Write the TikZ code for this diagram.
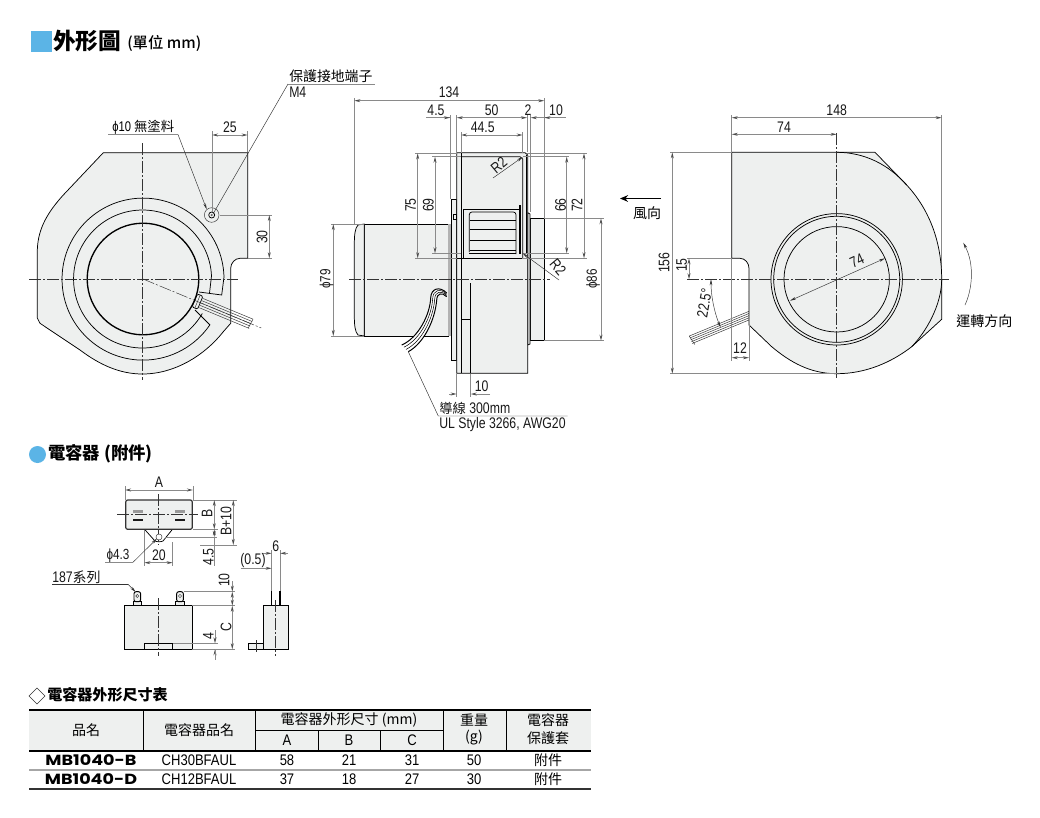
\documentclass[tikz,border=0pt]{standalone}
\usepackage{fontspec}
\usetikzlibrary{arrows.meta}
\setmainfont[FakeStretch=0.8]{Liberation Sans}
\newfontfamily\TB[FakeStretch=0.85]{Liberation Sans}
\newfontfamily\C{Noto Sans CJK TC}
\newfontfamily\CM{Noto Sans CJK TC Medium}
\newfontfamily\HV[FakeStretch=1.2]{Poppins}
\definecolor{pfill}{HTML}{EEF0EF}
\definecolor{dimc}{HTML}{8A8A8A}
\definecolor{blu}{HTML}{5BB4E6}
\tikzset{
  ol/.style={draw=black,line width=.55pt},
  thn/.style={draw=black!80,line width=.35pt},
  ext/.style={draw=dimc,line width=.7pt},
  dl/.style={draw=dimc,line width=.7pt,{Stealth[length=4.5pt,width=2.2pt,color=black!70]}-{Stealth[length=4.5pt,width=2.2pt,color=black!70]}},
  sa/.style={draw=dimc,line width=.7pt,-{Stealth[length=4.5pt,width=2.2pt,color=black!70]}},
  la/.style={draw=black!80,line width=.35pt,-{Stealth[length=4.5pt,width=2pt,color=black!80]}},
  cl/.style={draw=black!80,line width=.35pt,dash pattern=on 9pt off 1.5pt on 1.5pt off 1.5pt},
  tx/.style={inner sep=0pt,font=\fontsize{11.5}{12}\selectfont,text=black!90},
  rt/.style={tx,rotate=90},
  cj/.style={inner sep=0pt,font=\C\fontsize{10.4}{12}\selectfont,text=black},
  tb/.style={inner sep=0pt,font=\TB\fontsize{11.5}{12}\selectfont,text=black},
  tc/.style={inner sep=0pt,font=\C\fontsize{10.5}{12}\selectfont,text=black},
  tm/.style={inner sep=0pt,font=\HV\bfseries\fontsize{11}{12}\selectfont,text=black},
}
\begin{document}
\begin{tikzpicture}[x=.75pt,y=-.75pt]
\useasboundingbox (0,0) rectangle (1040,818);
\fill[white] (0,0) rectangle (1040,818);
%% titles
\fill[blu] (31,31) rectangle (52,52);
\node[anchor=west,inner sep=0pt,font=\C\bfseries\fontsize{17}{20}\selectfont] (t1) at (53,41) {外形圖};
\node[anchor=west,inner sep=0pt,font=\CM\fontsize{11.5}{13}\selectfont] (t2) at (127,43) {(單位 mm)};
\fill[blu] (37.5,454.5) circle (8.5);
\node[anchor=west,inner sep=0pt,font=\C\bfseries\fontsize{13}{15}\selectfont] (t3) at (48,454) {電容器 (附件)};
\draw[black!80,line width=.5pt] (37,688) -- (45,696) -- (37,704) -- (29,696) -- cycle;
\node[anchor=west,inner sep=0pt,font=\C\bfseries\fontsize{11.3}{15}\selectfont] (t4) at (47,695) {電容器外形尺寸表};
%% LEFT VIEW
\path[fill=pfill,ol] (103.3,152.7) -- (247.7,152.7) -- (247.7,258.3) -- (240,258.3)
  .. controls (235,258.3) and (230.7,263) .. (230.7,268.3) -- (230.7,323.3) -- (223.3,331.7)
  .. controls (205,355) and (175,374) .. (142.5,374)
  .. controls (120,374) and (100,365) .. (80,350) -- (40,323.3) -- (37.3,318) -- (37.3,250)
  .. controls (38,228) and (48,212) .. (63.3,195) -- cycle;
\draw[ol] (224,277) arc[start angle=-1.5,end angle=-325.5,radius=81] coordinate (oe);
\draw[ol] (211.5,276) arc[start angle=-2.5,end angle=-330,radius=69] coordinate (me);
\draw[ol] (195,310) -- (210,325);
\draw[ol] (224,277) -- (221.7,295) -- (199,292);
\draw[ol] (211.5,276) -- (209.5,293.2);
\begin{scope}[shift={(143,279)},rotate=-22.5]
  \foreach \o in {-5,-2.5,0,2.5,5} \draw[thn] (63,\o) -- (117,\o);
  \draw[ol,fill=pfill,rounded corners=1pt] (56,-7) -- (62,-7) -- (62,7) -- (56,7) -- cycle;
  \draw[thn] (59,-7) -- (59,7);
  \draw[cl] (0,0) -- (128,0);
  \draw[thn] (117,-5) -- (116,5);
\end{scope}
\draw[black,line width=1pt] (143,279) circle (55.8);
\draw[cl] (142.5,143) -- (142.5,380);
\draw[cl] (29,279) -- (238,279);
\draw[thn] (211.7,215) circle (7.3);
\draw[ol] (211.7,215) circle (3);
\fill[black!60] (211.7,215) circle (1.2);
% dims left
\draw[ext] (212,131) -- (212,212);
\draw[ext] (247.7,131) -- (247.7,152);
\draw[dl] (212,135) -- (247.7,135);
\node[tx] (d25) at (230,127) {25};
\draw[ext] (220,215) -- (272,215);
\draw[ext] (248,258.3) -- (272,258.3);
\draw[dl] (269.3,215) -- (269.3,258.3);
\node[rt] (d30) at (262,237) {30};
\draw[ext] (108,134.5) -- (178,134.5);
\node[anchor=west,inner sep=0pt,font=\fontsize{10.5}{12}\selectfont] (p10) at (112,127) {ϕ10 {\C\fontsize{10}{12}\selectfont 無塗料}};
\draw[la] (178,134.5) -- (206.7,209.3);
\node[cj,anchor=west] (ps) at (289,76) {保護接地端子};
\draw[ext] (288,84) -- (375,84);
\node[tx,anchor=west] (m4) at (289,92) {M4};
\draw[thn] (288,84) -- (213,214);
%% MIDDLE VIEW
\path[fill=pfill,ol] (364.3,224) -- (448.3,224) -- (448.3,336) -- (364.3,336) -- cycle;
\path[fill=pfill,ol] (364.3,224) -- (358,225) .. controls (355,228) and (354.3,235) .. (354.3,245) -- (354.3,315) .. controls (354.3,325) and (355,332) .. (358,335) -- (364.3,336) -- cycle;
\fill[black!30] (447.7,224) rectangle (451.7,336);
\path[fill=pfill,ol] (451,199.3) -- (456.7,199.3) -- (456.7,360) -- (451,360) -- cycle;
\path[fill=pfill,ol] (530,218.3) -- (544.3,218.3) -- (544.3,340.7) -- (530,340.7) -- cycle;
\path[fill=pfill,ol] (527.7,212.7) -- (530,214) -- (530,344) -- (527.7,345) -- cycle;
\path[fill=pfill,ol] (456.7,152.7) -- (525,152.7) -- (527.7,155) -- (527.7,373.3) -- (456.7,373.3) -- cycle;
\draw[ol] (461,152.7) -- (461,373.3);
\draw[ol] (461,156.7) -- (520,156.7) -- (522.7,159) -- (522.7,258.3);
\draw[ol] (456.7,258.3) -- (522.7,258.3);
\draw[ol] (526.7,155) -- (526.7,253) -- (522.7,253);
\draw[ol] (470.7,283.3) -- (470.7,373.3);
\draw[ol] (461,319.3) -- (470.7,319.3);
% vent
\draw[ol] (463.3,258) -- (463.3,209) -- (520,209);
\draw[line width=.8pt] (520,205) -- (520,254);
\draw[ol,rounded corners=2pt] (469.3,252) -- (469.3,212) -- (516,212) -- (516,254);
\foreach \y in {220,229,240,250} {\draw[ol,rounded corners=2pt] (469.5,\y) -- (516,\y);}
\draw[ol] (469.3,253.5) -- (516,253.5);
\draw[ol] (453,214) rectangle (456.7,219);
% cable
\fill[white] (446.7,293) .. controls (440,286) and (431,288) .. (430.7,298) .. controls (430,315) and (418,338) .. (401.7,345)
  -- (408.3,351.7) .. controls (424,343) and (435,320) .. (436.7,300) .. controls (437,293) and (442,292) .. (446.7,296.7) -- cycle;
\foreach \t/\w in {0/.75,.33/.4,.66/.4,1/.75} {
 \draw[black,line width=\w pt] (446.7,293+\t*3.7) .. controls (440+2*\t,286+6*\t) and (431+6*\t,288+5*\t) .. (430.7+6*\t,298+2*\t)
   .. controls (430+5*\t,315+5*\t) and (418+6*\t,338+5*\t) .. (401.7+6.6*\t,345+6.7*\t);
}
\draw[cl] (349,279) -- (550,279);
% dims mid
\draw[ext] (354.3,98) -- (354.3,224);
\draw[ext] (544.3,98) -- (544.3,218);
\draw[dl] (354.3,100.7) -- (544.3,100.7);
\node[tx] (d134) at (449,92) {134};
\draw[ext] (450,115) -- (450,199);
\draw[ext] (456.7,115) -- (456.7,152);
\draw[ext] (527,115) -- (527,152);
\draw[ext] (530.7,115) -- (530.7,212);
\draw[ext] (426,117.7) -- (450,117.7);
\draw[sa] (436,117.7) -- (450,117.7);
\draw[dl] (456.7,117.7) -- (527,117.7);
\draw[sa] (544,117.7) -- (530.7,117.7);
\draw[ext] (544.3,117.7) -- (565.7,117.7);
\draw[sa] (552,117.7) -- (544.3,117.7);
\node[tx] (d45) at (436,110) {4.5};
\node[tx] (d50) at (491.7,110) {50};
\node[tx] (d2) at (528,110) {2};
\node[tx] (d10a) at (556,110) {10};
\draw[ext] (461,132) -- (461,153);
\draw[ext] (522.7,132) -- (522.7,153);
\draw[dl] (461,135) -- (522.7,135);
\node[tx] (d445) at (482.7,127) {44.5};
\draw[ext] (415,153.3) -- (457,153.3);
\draw[ext] (415,258.3) -- (457,258.3);
\draw[ext] (432,156.7) -- (461,156.7);
\draw[ext] (432,253.3) -- (461,253.3);
\draw[dl] (417.7,153.3) -- (417.7,258.3);
\draw[dl] (435,156.7) -- (435,253.3);
\node[rt] (d75) at (410.7,205) {75};
\node[rt] (d69) at (428.3,205) {69};
\draw[ext] (527,153.3) -- (587,153.3);
\draw[ext] (522,258.3) -- (587,258.3);
\draw[ext] (523,156.7) -- (569,156.7);
\draw[ext] (523,253.3) -- (569,253.3);
\draw[dl] (566.7,156.7) -- (566.7,253.3);
\draw[dl] (584,153.3) -- (584,258.3);
\node[rt] (d66) at (560.7,205) {66};
\node[rt] (d72) at (577,205) {72};
\draw[ext] (331,224) -- (364,224);
\draw[ext] (331,336) -- (364,336);
\draw[dl] (333.3,224) -- (333.3,336);
\node[rt,font=\fontsize{11}{12}\selectfont] (p79) at (326.5,279) {ϕ79};
\draw[ext] (544,218.3) -- (604,218.3);
\draw[ext] (544,340.7) -- (604,340.7);
\draw[dl] (601,218.3) -- (601,340.7);
\node[rt,font=\fontsize{11}{12}\selectfont] (p86) at (593,279) {ϕ86};
\draw[la] (493,178) -- (522.7,157);
\node[tx,rotate=40] (r2top) at (499,165.5) {R2};
\draw[la] (559,280) -- (522.7,253.3);
\node[tx,rotate=-50] (r2low) at (558,267.5) {R2};
\draw[ext] (456.7,374) -- (456.7,397);
\draw[ext] (470.7,374) -- (470.7,397);
\draw[sa] (449,394) -- (456.7,394);
\draw[sa] (490,394) -- (470.7,394);
\node[tx] (d10b) at (481.7,386) {10};
\draw[thn] (408.3,351.7) -- (438.3,416) -- (567.7,416);
\node[tx,anchor=west] (wr1) at (439,408) {{\C\fontsize{10}{12}\selectfont 導線} 300mm};
\node[tx,anchor=west] (wr2) at (439,425) {UL Style 3266, AWG20};
% wind
\draw[black,line width=1.2pt,-{Stealth[length=6pt,width=5pt]}] (661,198.5) -- (620,198.5);
\node[tc] (wind) at (647,213) {風向};
%% RIGHT VIEW
\draw[ext] (941.7,115) -- (941.7,279);
\begin{scope}[shift={(836.7,279.3)},rotate=22.5]
  \foreach \o in {-4,-2,0,2,4} \draw[thn] (-85,\o) -- (-158,\o);
  \draw[thn] (-158,-4) -- (-156,6);
\end{scope}
\path[fill=pfill,ol] (731.7,152.3) -- (875,152.3) -- (906.7,185)
  .. controls (928,208) and (941.7,240) .. (941.7,279.3) -- (941.7,319.3) -- (911.7,346.7)
  .. controls (892,362) and (866,373.7) .. (836.7,373.7)
  .. controls (810,373.7) and (790,362) .. (771.7,346.7) -- (749,325) -- (749,268.3)
  .. controls (749,263) and (745,258.3) .. (740,258.3) -- (731.7,258.3) -- cycle;
\draw[ol] (836.7,152.3) .. controls (865,152.3) and (889,165) .. (906.7,185);
\draw[ol] (911.7,346.7) .. controls (926,332) and (941.7,305) .. (941.7,279.3);
\foreach \r in {52.7,63,65.7} \draw[ol] (836.7,279.3) circle (\r);
\draw[cl] (836.7,133) -- (836.7,378);
\draw[cl] (687,279.3) -- (949,279.3);
\draw[ext] (731.7,115) -- (731.7,152);
\draw[ext] (731.7,258.5) -- (731.7,361);
\draw[dl] (731.7,117.7) -- (941.7,117.7);
\node[tx] (d148) at (836.7,110) {148};
\draw[dl] (731.7,134.3) -- (836.7,134.3);
\node[tx] (d74a) at (784,127) {74};
\draw[ext] (670,152.3) -- (731.7,152.3);
\draw[ext] (670,373.7) -- (836.7,373.7);
\draw[dl] (672.3,152.3) -- (672.3,373.7);
\node[rt] (d156) at (664,262.7) {156};
\draw[ext] (687,258.3) -- (731.7,258.3);
\draw[dl] (689,258.3) -- (689,279.3);
\node[rt] (d15) at (681.7,265) {15};
\draw[ext] (749,325) -- (749,361);
\draw[dl] (731.7,357.7) -- (749,357.7);
\node[tx] (d12) at (740,348) {12};
\draw[thn,{Stealth[length=4.5pt,width=2pt]}-{Stealth[length=4.5pt,width=2pt]}] (790,300.7) -- (885,258.3);
\node[tx,rotate=24] (d74b) at (857,261) {74};
\draw[thn,{Stealth[length=4.5pt,width=2pt]}-{Stealth[length=4.5pt,width=2pt]}] (711,279.3) arc[start angle=180,end angle=157.5,radius=125.7];
\node[tx,rotate=80] (d225) at (704.5,303) {22.5°};
% rotation
\draw[la] (965,305) .. controls (972,290) and (975,265) .. (963.3,242.7);
\node[tc,anchor=west] (rot) at (956,320.7) {運轉方向};
%% CAPACITOR TOP
\draw[ol] (144.3,529) -- (155,541) .. controls (157,542) and (161,542) .. (163,541) -- (172.7,529);
\path[fill=pfill,draw=black!80,line width=.9pt,rounded corners=1.5pt] (125.7,500) rectangle (192.3,529.3);
\draw[cl] (117,514) -- (198,514);
\draw[cl] (158.3,494) -- (158.3,545);
\fill[black!40] (133,509.5) rectangle (143,512.5);
\fill[black!40] (175,509.5) rectangle (185,512.5);
\fill[black!90] (133,518.5) rectangle (143,520.5);
\fill[black!90] (175,518.5) rectangle (185,520.5);
\draw[thn,fill=white] (159,537) circle (3);
\draw[ext] (125,486) -- (125,500);
\draw[ext] (193,486) -- (193,500);
\draw[dl] (125,490) -- (193,490);
\node[tx] (da) at (159,482) {A};
\draw[ext] (193,500) -- (237,500);
\draw[ext] (193,529.3) -- (218,529.3);
\draw[ext] (165,537) -- (217,537);
\draw[ext] (200,545) -- (237,545);
\draw[dl] (214.3,500) -- (214.3,529.3);
\draw[dl] (214.3,529.3) -- (214.3,537);
\draw[ext] (214.3,537) -- (214.3,566);
\draw[dl] (233.3,500) -- (233.3,545);
\node[rt] (db) at (207,513) {B};
\node[rt] (db10) at (226,521) {B+10};
\node[rt] (d45b) at (208.3,556.7) {4.5};
\draw[ext] (144.3,530) -- (144.3,566);
\draw[ext] (172.7,542) -- (172.7,566);
\draw[dl] (144.3,562.7) -- (172.7,562.7);
\node[tx] (d20) at (159,555) {20};
\node[tx,font=\fontsize{11}{12}\selectfont] (p43) at (118,555.5) {ϕ4.3};
\draw[ext] (105,562.3) -- (133,562.3);
\draw[la] (133,562.3) -- (157,538.5);
%% CAPACITOR FRONT
\path[fill=pfill,ol] (124.3,605.7) rectangle (192.3,649.3);
\draw[ol] (144.3,643.3) rectangle (172.7,649.3);
\draw[cl] (158.3,598) -- (158.3,656);
\foreach \xx in {137.3,180} {
  \path[fill=pfill,ol] (\xx-4.2,605.7) -- (\xx-4.2,601.7) -- (\xx+4.2,601.7) -- (\xx+4.2,605.7) -- cycle;
  \path[fill=pfill,draw=black,line width=.7pt,rounded corners=1.5pt] (\xx-3.3,601.7) -- (\xx-3.3,591.7) -- (\xx+3.3,591.7) -- (\xx+3.3,601.7) -- cycle;
  \draw[thn] (\xx,596) circle (1.6);
}
\draw[ext] (184,591.7) -- (235,591.7);
\draw[ext] (192.3,605.7) -- (235,605.7);
\draw[ext] (173,643.3) -- (218,643.3);
\draw[ext] (192.3,649.3) -- (235,649.3);
\draw[sa] (232.3,581) -- (232.3,591.7);
\draw[dl] (232.3,591.7) -- (232.3,605.7);
\draw[dl] (232.3,605.7) -- (232.3,649.3);
\draw[sa] (215,630) -- (215,643.3);
\draw[sa] (215,656) -- (215,649.3);
\draw[ext] (215,649.3) -- (215,660);
\node[rt] (d10c) at (224,580) {10};
\node[rt] (dc) at (226,626.7) {C};
\node[rt] (d4) at (208.3,635.7) {4};
\node[tx,anchor=west] (s187) at (52,577) {187{\C\fontsize{10.5}{12}\selectfont 系列}};
\draw[thn] (52,584.3) -- (128,584.3);
\draw[la] (128,584.3) -- (135.7,592);
%% CAPACITOR SIDE
\path[fill=pfill,ol] (263.3,605.7) rectangle (288.7,649.3);
\path[fill=pfill,ol] (248.3,643.3) rectangle (263.3,649.3);
\draw[cl] (256,640) -- (256,653);
\draw[cl] (275.7,600) -- (275.7,656);
\draw[black,line width=1.1pt] (271.7,591) -- (271.7,605.7);
\draw[black,line width=1.1pt] (280,591) -- (280,605.7);
\draw[ext] (271.7,550) -- (271.7,591);
\draw[ext] (280,550) -- (280,591);
\draw[sa] (262,553.3) -- (271.7,553.3);
\draw[sa] (288,553.3) -- (280,553.3);
\node[tx] (d6) at (275.7,546) {6};
\node[tx] (d05) at (253,561) {(0.5)};
\draw[sa] (240.7,568.3) -- (271.7,568.3);
%% TABLE
\fill[pfill] (29,710) rectangle (591,751);
\draw[black,line width=.6pt] (143,710) -- (143,751) (255,710) -- (255,751) (443,710) -- (443,751) (506,710) -- (506,751);
\draw[black,line width=.4pt] (318,730) -- (318,751) (380,730) -- (380,751) (255,730) -- (443,730);
\draw[black,line width=1.1pt] (29,710) -- (591,710);
\draw[black,line width=.9pt] (29,751) -- (591,751);
\draw[black!35,line width=1.2pt] (29,770) -- (591,770);
\draw[black!80,line width=1.1pt] (29,789) -- (591,789);
\node[tc] (h1) at (86,730) {品名};
\node[tc] (h2) at (199,730) {電容器品名};
\node[tc] (h3) at (349,720) {電容器外形尺寸 (mm)};
\node[tc] (h4) at (474,720) {重量};
\node[tc] (h5) at (474,738) {(g)};
\node[tc] (h6) at (548,720) {電容器};
\node[tc] (h7) at (548,738) {保護套};
\node[tb] (ha) at (287,740) {A};
\node[tb] (hb) at (349,740) {B};
\node[tb] (hc) at (412,740) {C};
\node[tm] (r1a) at (91,760) {MB1040-B};
\node[tb] (r1b) at (199,760) {CH30BFAUL};
\node[tb] (r1c) at (287,760) {58};
\node[tb] (r1d) at (349,760) {21};
\node[tb] (r1e) at (412,760) {31};
\node[tb] (r1f) at (474,760) {50};
\node[tc] (r1g) at (548,760) {附件};
\node[tm] (r2a) at (91,779) {MB1040-D};
\node[tb] (r2b) at (199,779) {CH12BFAUL};
\node[tb] (r2c) at (287,779) {37};
\node[tb] (r2d) at (349,779) {18};
\node[tb] (r2e) at (412,779) {27};
\node[tb] (r2f) at (474,779) {30};
\node[tc] (r2g) at (548,779) {附件};
\end{tikzpicture}
\end{document}
